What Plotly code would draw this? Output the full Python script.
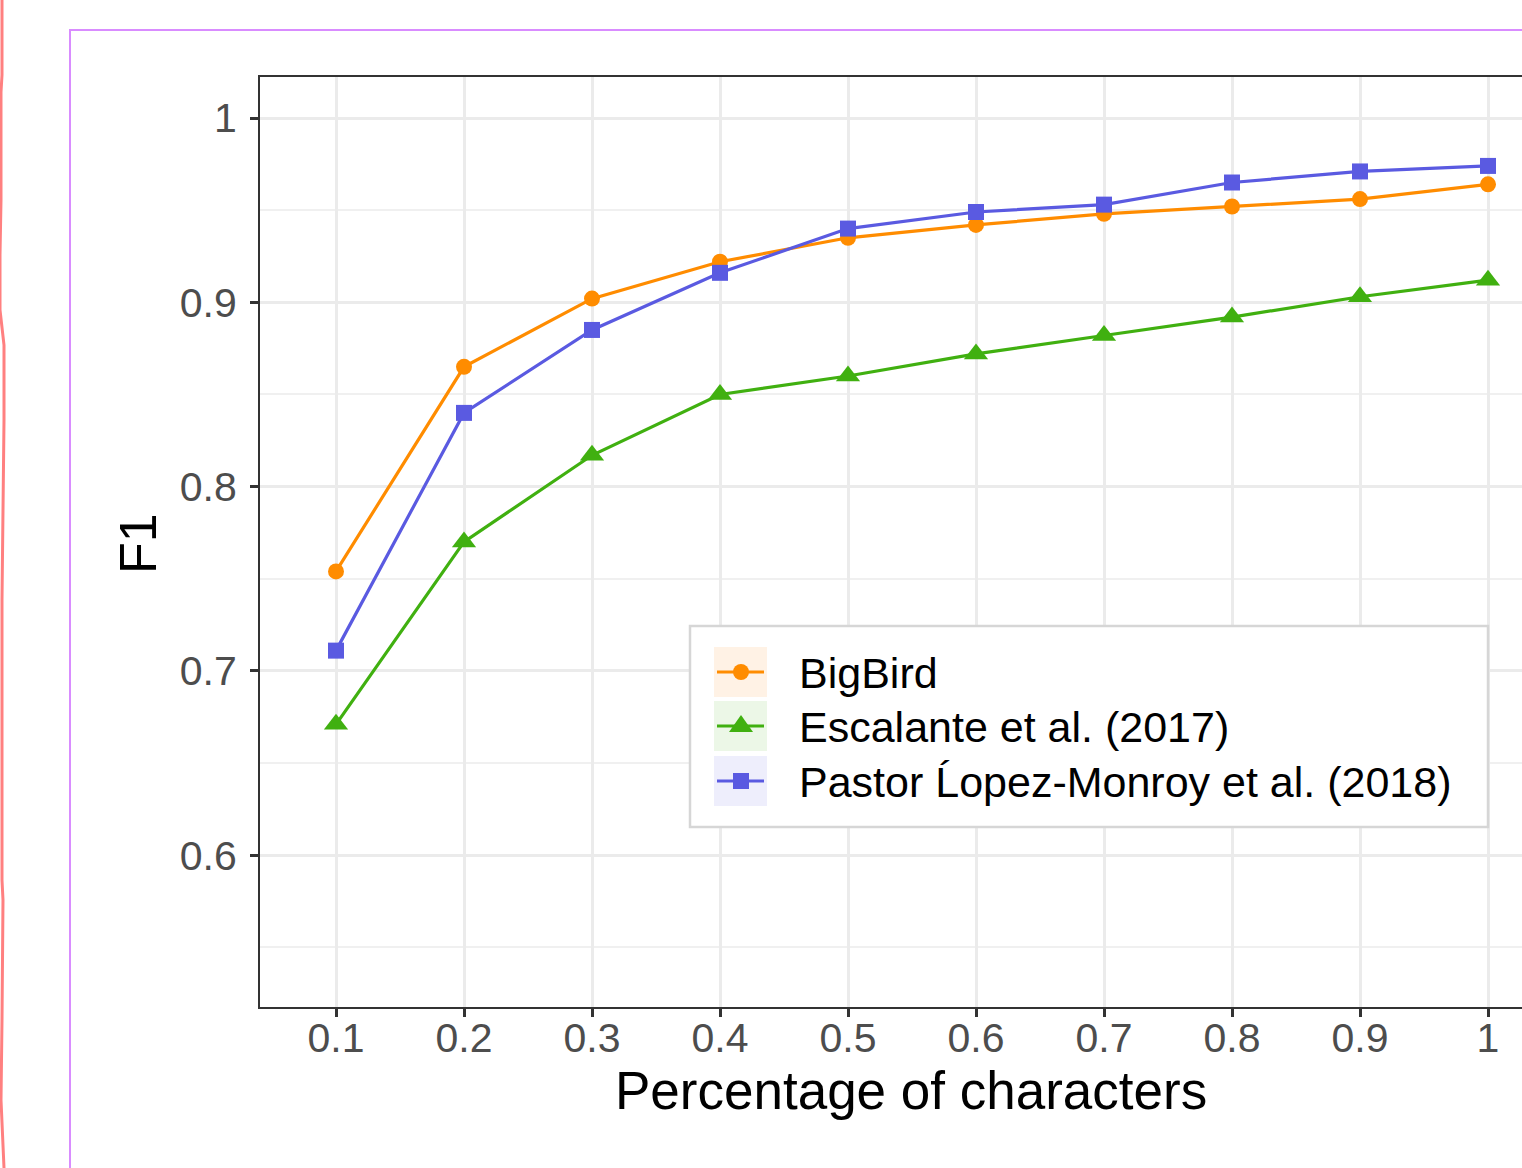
import plotly.graph_objects as go

# ---------------- data ----------------
x_vals = [0.1, 0.2, 0.3, 0.4, 0.5, 0.6, 0.7, 0.8, 0.9, 1.0]
bigbird = [0.754, 0.865, 0.902, 0.922, 0.935, 0.942, 0.948, 0.952, 0.956, 0.964]
escalante = [0.671, 0.770, 0.817, 0.850, 0.860, 0.872, 0.882, 0.892, 0.903, 0.912]
pastor = [0.711, 0.840, 0.885, 0.916, 0.940, 0.949, 0.953, 0.965, 0.971, 0.974]
series_names = ["BigBird", "Escalante et al. (2017)", "Pastor Ĺopez-Monroy et al. (2018)"]
x_ticks = [0.1, 0.2, 0.3, 0.4, 0.5, 0.6, 0.7, 0.8, 0.9, 1.0]
x_ticklabels = ["0.1", "0.2", "0.3", "0.4", "0.5", "0.6", "0.7", "0.8", "0.9", "1"]
y_ticks = [0.6, 0.7, 0.8, 0.9, 1.0]
y_ticklabels = ["0.6", "0.7", "0.8", "0.9", "1"]
y_minor = [0.55, 0.65, 0.75, 0.85, 0.95]

# ---------------- styling ----------------
W, H = 1522, 1168
L, R, T, B = 260, 0, 77, 161
FONT = "Liberation Sans, Arial, sans-serif"
colors = ["#FF8C00", "#40B010", "#5A5AE1"]
key_bg = ["#FFF2E5", "#ECF7E7", "#EEEEFC"]
symbols = ["circle", "triangle-up", "square"]
sizes = [16, 21, 16]


def pxx(x):
    return (x - L) / (W - L - R)


def pxy(y):
    return (H - B - y) / (H - T - B)


fig = go.Figure()
for name, ys, c, s, sz in zip(series_names, [bigbird, escalante, pastor], colors, symbols, sizes):
    fig.add_trace(go.Scatter(
        x=x_vals, y=ys, name=name, mode="lines+markers",
        line=dict(color=c, width=3.2),
        marker=dict(symbol=s, size=sz, color=c, line=dict(width=0)),
        showlegend=False,
    ))

shapes = []
# decorative frames from the reference capture
shapes.append(dict(type="rect", xref="paper", yref="paper",
                   x0=pxx(70), x1=pxx(1700), y0=pxy(30), y1=pxy(1300),
                   line=dict(color="#D98CFF", width=2), fillcolor="rgba(0,0,0,0)", layer="below"))
wave = [(2, 0), (2, 75), (1, 92), (1, 200), (0, 255), (0, 310), (4, 345), (4, 420), (2, 600),
        (2, 880), (3, 900), (2, 1020), (1, 1100), (4, 1168)]
path = "M " + " L ".join(f"{pxx(a):.5f},{pxy(b):.5f}" for a, b in wave)
shapes.append(dict(type="path", xref="paper", yref="paper", path=path,
                   line=dict(color="#FF8080", width=3)))

# legend box
shapes.append(dict(type="rect", xref="paper", yref="paper",
                   x0=pxx(690), x1=pxx(1488), y0=pxy(626), y1=pxy(827),
                   line=dict(color="#D6D6D6", width=2.5), fillcolor="white"))
key_rows = [672, 726, 781]
annotations = []
for i, (cy, c, bg) in enumerate(zip(key_rows, colors, key_bg)):
    shapes.append(dict(type="rect", xref="paper", yref="paper",
                       x0=pxx(714), x1=pxx(767), y0=pxy(cy - 25), y1=pxy(cy + 25),
                       line=dict(width=0), fillcolor=bg))
    shapes.append(dict(type="line", xref="paper", yref="paper",
                       x0=pxx(717), x1=pxx(764), y0=pxy(cy), y1=pxy(cy),
                       line=dict(color=c, width=3)))
    if i == 0:
        shapes.append(dict(type="circle", xref="paper", yref="paper",
                           x0=pxx(741 - 8), x1=pxx(741 + 8), y0=pxy(cy - 8), y1=pxy(cy + 8),
                           line=dict(width=0), fillcolor=c))
    elif i == 1:
        tp = (f"M {pxx(729):.5f},{pxy(cy + 6):.5f} L {pxx(753):.5f},{pxy(cy + 6):.5f} "
              f"L {pxx(741):.5f},{pxy(cy - 11):.5f} Z")
        shapes.append(dict(type="path", xref="paper", yref="paper", path=tp,
                           line=dict(width=0), fillcolor=c))
    else:
        shapes.append(dict(type="rect", xref="paper", yref="paper",
                           x0=pxx(741 - 8), x1=pxx(741 + 8), y0=pxy(cy - 8), y1=pxy(cy + 8),
                           line=dict(width=0), fillcolor=c))
    annotations.append(dict(xref="paper", yref="paper", x=pxx(797), y=pxy(cy + 1),
                            xanchor="left", yanchor="middle", showarrow=False,
                            text=series_names[i], font=dict(family=FONT, size=43, color="black")))

# axis titles
annotations.append(dict(xref="paper", yref="paper", x=pxx(911), y=pxy(1090),
                        xanchor="center", yanchor="middle", showarrow=False,
                        text="Percentage of characters", font=dict(family=FONT, size=53, color="black")))
annotations.append(dict(xref="paper", yref="paper", x=pxx(138), y=pxy(544),
                        xanchor="center", yanchor="middle", showarrow=False, textangle=-90,
                        text="F1", font=dict(family=FONT, size=52, color="black")))

fig.update_layout(
    width=W, height=H,
    margin=dict(l=L, r=R, t=T, b=B, pad=0),
    paper_bgcolor="white", plot_bgcolor="white",
    shapes=shapes, annotations=annotations,
    showlegend=False,
    xaxis=dict(
        range=[0.1 - 76 / 1280, 1.0 + 34 / 1280],
        tickvals=x_ticks, ticktext=x_ticklabels,
        showgrid=True, gridcolor="#EBEBEB", gridwidth=3,
        zeroline=False,
        showline=True, linecolor="#333333", linewidth=2, mirror=True,
        ticks="outside", ticklen=8, tickwidth=2.5, tickcolor="#333333",
        tickfont=dict(family=FONT, size=41, color="#4D4D4D"),
        ticklabelstandoff=-14,
    ),
    yaxis=dict(
        range=[1.02225 - 930 / 1843, 1.02225],
        tickvals=y_ticks, ticktext=y_ticklabels,
        showgrid=True, gridcolor="#EBEBEB", gridwidth=3,
        minor=dict(tickvals=y_minor, showgrid=True, gridcolor="#F0F0F0", gridwidth=2, ticks=""),
        zeroline=False,
        showline=True, linecolor="#333333", linewidth=2, mirror=False,
        ticks="outside", ticklen=8, tickwidth=2.5, tickcolor="#333333",
        tickfont=dict(family=FONT, size=41, color="#4D4D4D"),
        ticklabelstandoff=5,
    ),
)

fig.write_html("out.html")
